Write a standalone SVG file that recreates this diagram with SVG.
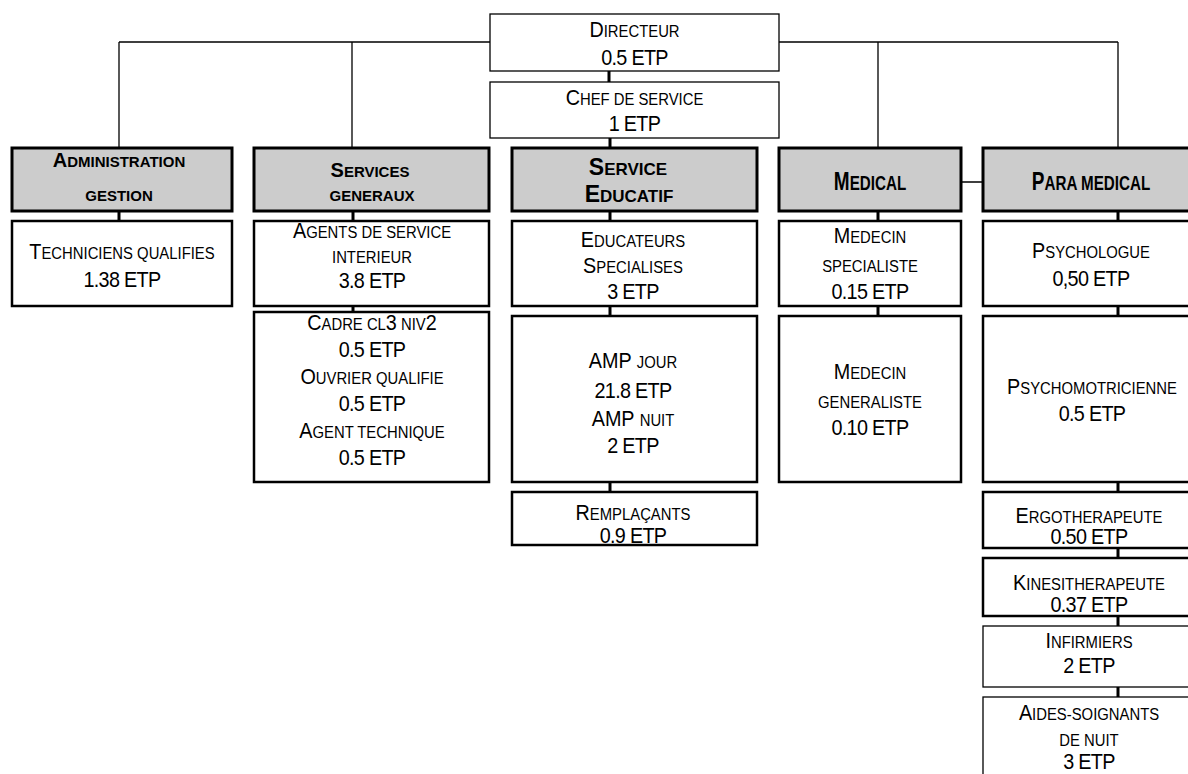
<svg xmlns="http://www.w3.org/2000/svg" width="1188" height="774" viewBox="0 0 1188 774">
<style>
.t{font-family:"Liberation Sans",Arial,sans-serif;font-size:22px;text-anchor:middle;fill:#000}
.s{font-size:16.5px}
.n{letter-spacing:-0.75px}
.h{font-size:20px;font-weight:bold}
.h .s,.h.s{font-size:15px}
.e{font-size:23px}
.e .s{font-size:17px}
.m{font-size:25px}
.m .s{font-size:20px}
.box{fill:#fff;stroke:#000;stroke-width:2.5}
.thin{stroke-width:1.3}
.hdr{fill:#ccc;stroke:#000;stroke-width:3}
.c{stroke:#000;stroke-width:1.3;fill:none}
.ct{stroke:#000;stroke-width:3;fill:none}
</style>
<rect width="1188" height="774" fill="#fff"/>
<g id="connectors">
<path class="c" d="M119,42H490M779,42H1118M119,42V148M352,42V148M878,42V148M1118,42V148M961,182H983"/>
<path class="ct" d="M609,71V82M610,138V148M119,211V221M353,211V221M353,306V312M610,211V221M610,306V316M610,482V492M878,211V221M878,306V316M1118,211V221M1118,306V316M1118,482V492M1118,548V558M1118,616V626M1118,687V697"/>
</g>
<g id="directeur">
<rect class="box thin" x="490" y="14" width="289" height="57"/>
<g transform="translate(634.5,0) scale(.9,1)">
<text class="t" x="0" y="37">D<tspan class="s">IRECTEUR</tspan></text>
<text class="t n" x="0" y="65">0.5 ETP</text>
</g>
</g>
<g id="chef">
<rect class="box thin" x="490" y="82" width="289" height="56"/>
<g transform="translate(634.5,0) scale(.9,1)">
<text class="t" x="0" y="105">C<tspan class="s">HEF DE SERVICE</tspan></text>
<text class="t n" x="0" y="131.5">1 ETP</text>
</g>
</g>
<g id="hdr-admin">
<rect class="hdr" x="12" y="148" width="220" height="63"/>
<text class="t h" x="119" y="167">A<tspan class="s">DMINISTRATION</tspan></text>
<text class="t h s" x="119" y="201">GESTION</text>
</g>
<g id="hdr-services">
<rect class="hdr" x="254" y="148" width="235" height="63"/>
<text class="t h" x="370" y="176.7">S<tspan class="s">ERVICES</tspan></text>
<text class="t h s" x="372" y="201">GENERAUX</text>
</g>
<g id="hdr-educatif">
<rect class="hdr" x="512" y="148" width="245" height="63"/>
<text class="t h e" x="628" y="175">S<tspan class="s">ERVICE</tspan></text>
<text class="t h e" x="629" y="201.7">E<tspan class="s">DUCATIF</tspan></text>
</g>
<g id="hdr-medical">
<rect class="hdr" x="779" y="148" width="182" height="63"/>
<g transform="translate(870,0) scale(.76,1)">
<text class="t h m" x="0" y="190">M<tspan class="s">EDICAL</tspan></text>
</g>
</g>
<g id="hdr-para">
<rect class="hdr" x="983" y="148" width="218" height="63"/>
<g transform="translate(1091,0) scale(.76,1)">
<text class="t h m" x="0" y="190">P<tspan class="s">ARA MEDICAL</tspan></text>
</g>
</g>
<g id="techniciens">
<rect class="box" x="12" y="221" width="220" height="85"/>
<g transform="translate(122,0) scale(.9,1)">
<text class="t" x="0" y="259">T<tspan class="s">ECHNICIENS QUALIFIES</tspan></text>
<text class="t n" x="0" y="287">1.38 ETP</text>
</g>
</g>
<g id="agents">
<rect class="box" x="254" y="221" width="235" height="85"/>
<g transform="translate(372,0) scale(.9,1)">
<text class="t" x="0" y="238">A<tspan class="s">GENTS DE SERVICE</tspan></text>
<text class="t s" x="0" y="263.5">INTERIEUR</text>
<text class="t n" x="0" y="288.5">3.8 ETP</text>
</g>
</g>
<g id="cadre">
<rect class="box" x="254" y="312" width="235" height="170"/>
<g transform="translate(372,0) scale(.9,1)">
<text class="t" x="0" y="330.5">C<tspan class="s">ADRE CL</tspan>3<tspan class="s"> NIV</tspan>2</text>
<text class="t n" x="0" y="357.5">0.5 ETP</text>
<text class="t" x="0" y="384">O<tspan class="s">UVRIER QUALIFIE</tspan></text>
<text class="t n" x="0" y="411">0.5 ETP</text>
<text class="t" x="0" y="438">A<tspan class="s">GENT TECHNIQUE</tspan></text>
<text class="t n" x="0" y="465">0.5 ETP</text>
</g>
</g>
<g id="educateurs">
<rect class="box" x="512" y="221" width="245" height="85"/>
<g transform="translate(633,0) scale(.9,1)">
<text class="t" x="0" y="246.7">E<tspan class="s">DUCATEURS</tspan></text>
<text class="t" x="0" y="273.3">S<tspan class="s">PECIALISES</tspan></text>
<text class="t n" x="0" y="299.3">3 ETP</text>
</g>
</g>
<g id="amp">
<rect class="box" x="512" y="316" width="245" height="166"/>
<g transform="translate(633,0) scale(.9,1)">
<text class="t" x="0" y="368">AMP <tspan class="s">JOUR</tspan></text>
<text class="t n" x="0" y="398">21.8 ETP</text>
<text class="t" x="0" y="426">AMP <tspan class="s">NUIT</tspan></text>
<text class="t n" x="0" y="453">2 ETP</text>
</g>
</g>
<g id="remplacants">
<rect class="box" x="512" y="492" width="245" height="53"/>
<g transform="translate(633,0) scale(.9,1)">
<text class="t" x="0" y="520.5">R<tspan class="s">EMPLAÇANTS</tspan></text>
<text class="t n" x="0" y="543">0.9 ETP</text>
</g>
</g>
<g id="medecin-specialiste">
<rect class="box" x="779" y="221" width="182" height="85"/>
<g transform="translate(870,0) scale(.9,1)">
<text class="t" x="0" y="243.3">M<tspan class="s">EDECIN</tspan></text>
<text class="t s" x="0" y="271.7">SPECIALISTE</text>
<text class="t n" x="0" y="299.3">0.15 ETP</text>
</g>
</g>
<g id="medecin-generaliste">
<rect class="box" x="779" y="316" width="182" height="166"/>
<g transform="translate(870,0) scale(.9,1)">
<text class="t" x="0" y="379.3">M<tspan class="s">EDECIN</tspan></text>
<text class="t s" x="0" y="407.7">GENERALISTE</text>
<text class="t n" x="0" y="435">0.10 ETP</text>
</g>
</g>
<g id="psychologue">
<rect class="box" x="983" y="221" width="218" height="85"/>
<g transform="translate(1091,0) scale(.9,1)">
<text class="t" x="0" y="258.3">P<tspan class="s">SYCHOLOGUE</tspan></text>
<text class="t n" x="0" y="286">0,50 ETP</text>
</g>
</g>
<g id="psychomotricienne">
<rect class="box" x="983" y="316" width="218" height="166"/>
<g transform="translate(1092,0) scale(.9,1)">
<text class="t" x="0" y="394">P<tspan class="s">SYCHOMOTRICIENNE</tspan></text>
<text class="t n" x="0" y="420.7">0.5 ETP</text>
</g>
</g>
<g id="ergotherapeute">
<rect class="box" x="983" y="492" width="218" height="56"/>
<g transform="translate(1089,0) scale(.9,1)">
<text class="t" x="0" y="523.5">E<tspan class="s">RGOTHERAPEUTE</tspan></text>
<text class="t n" x="0" y="544.5">0.50 ETP</text>
</g>
</g>
<g id="kinesitherapeute">
<rect class="box" x="983" y="558" width="218" height="58"/>
<g transform="translate(1089,0) scale(.9,1)">
<text class="t" x="0" y="590.5">K<tspan class="s">INESITHERAPEUTE</tspan></text>
<text class="t n" x="0" y="612.5">0.37 ETP</text>
</g>
</g>
<g id="infirmiers">
<rect class="box thin" x="983" y="626" width="218" height="61"/>
<g transform="translate(1089,0) scale(.9,1)">
<text class="t" x="0" y="648.3">I<tspan class="s">NFIRMIERS</tspan></text>
<text class="t n" x="0" y="673.3">2 ETP</text>
</g>
</g>
<g id="aides-soignants">
<rect class="box thin" x="983" y="697" width="218" height="90"/>
<g transform="translate(1089,0) scale(.9,1)">
<text class="t" x="0" y="720">A<tspan class="s">IDES-SOIGNANTS</tspan></text>
<text class="t s" x="0" y="746">DE NUIT</text>
<text class="t n" x="0" y="769.3">3 ETP</text>
</g>
</g>
</svg>
